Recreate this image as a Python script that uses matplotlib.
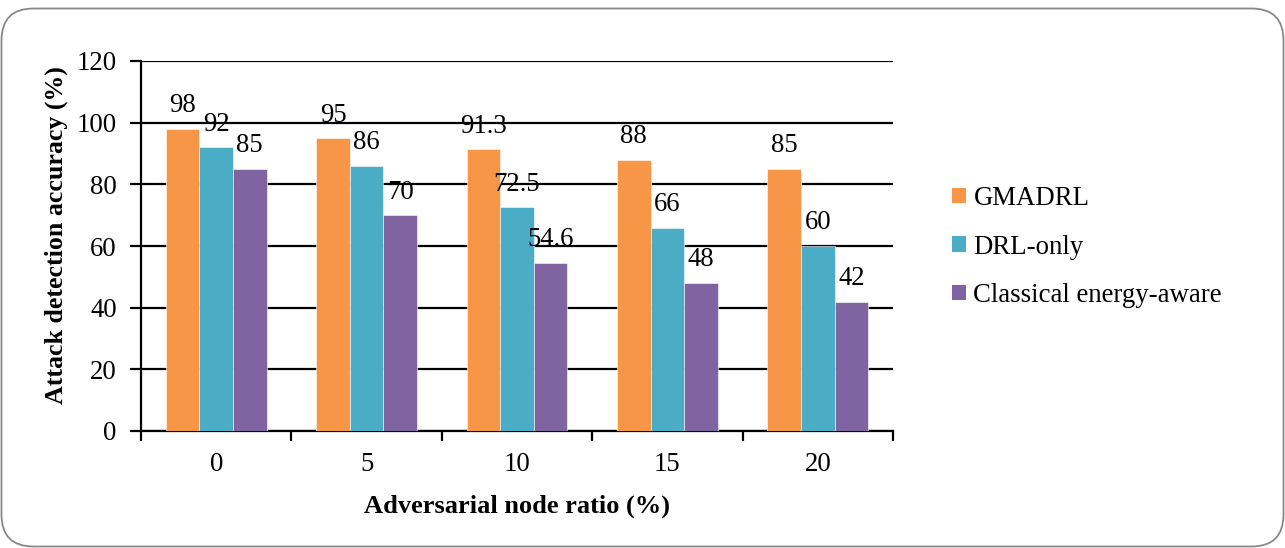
import numpy as np
import matplotlib
matplotlib.use('Agg')
import matplotlib.pyplot as plt
from matplotlib.patches import FancyBboxPatch, Patch

plt.rcParams['font.family'] = ['Liberation Serif', 'DejaVu Serif']

ratios = ['0', '5', '10', '15', '20']
gmadrl = [98, 95, 91.3, 88, 85]
drl_only = [92, 86, 72.5, 66, 60]
classical = [85, 70, 54.6, 48, 42]

series_names = ['GMADRL', 'DRL-only', 'Classical energy-aware']
colors = ['#F79646', '#4BACC6', '#8064A2']

FS = 19.3
fig = plt.figure(figsize=(12.85, 5.48), dpi=100)
ax = fig.add_axes([141 / 1285, 1 - 431 / 548, (893 - 141) / 1285, (431 - 61) / 548])

x = np.arange(len(ratios))
w = 0.223
for i, (vals, c) in enumerate(zip([gmadrl, drl_only, classical], colors)):
    pos = x + (i - 1) * w
    ax.bar(pos, vals, width=w, color=c, edgecolor='white', linewidth=0.4, zorder=3)
    for p, v in zip(pos, vals):
        ax.annotate(f'{v:g}', (p, v), xytext=(0, 11.9), textcoords='offset points',
                    ha='center', va='baseline', fontsize=FS, zorder=4)

ax.set_xlim(-0.5, len(ratios) - 0.5)
ax.set_ylim(0, 120)
ax.set_yticks(range(0, 121, 20))
ax.yaxis.grid(True, color='black', linewidth=1.6, zorder=0)
ax.set_axisbelow(True)

# category labels in the middle, tick marks on the boundaries
ax.set_xticks(x)
ax.set_xticklabels(ratios)
ax.tick_params(axis='x', length=0, labelsize=FS, pad=15)
ax.set_xticks(np.arange(-0.5, len(ratios)), minor=True)
ax.tick_params(axis='x', which='minor', length=7, width=1.6, direction='out')
ax.tick_params(axis='y', length=8, width=1.6, labelsize=FS, pad=9.5)

for s in ['top', 'right']:
    ax.spines[s].set_visible(False)
for s in ['left', 'bottom']:
    ax.spines[s].set_linewidth(1.6)

ax.set_xlabel('Adversarial node ratio (%)', fontsize=19, fontweight='bold', labelpad=13)
ax.set_ylabel('Attack detection accuracy (%)', fontsize=18.6, fontweight='bold')
ax.yaxis.set_label_coords(-0.097, 0.53)

handles = [Patch(facecolor=c, edgecolor='none') for c in colors]
fig.legend(handles, series_names, loc='center left', bbox_to_anchor=(952 / 1285, 1 - 247 / 548),
           frameon=False, fontsize=FS, handlelength=0.52, handleheight=0.52,
           handletextpad=0.28, labelspacing=0.87, borderaxespad=0, borderpad=0)

# rounded frame around the whole chart
frame = FancyBboxPatch((1.5, 1.5), 1282, 538, boxstyle='round,pad=0,rounding_size=32',
                       transform=None, facecolor='none', edgecolor='#888888', linewidth=1.3)
fig.patches.append(frame)

fig.savefig('out.png', dpi=100)
